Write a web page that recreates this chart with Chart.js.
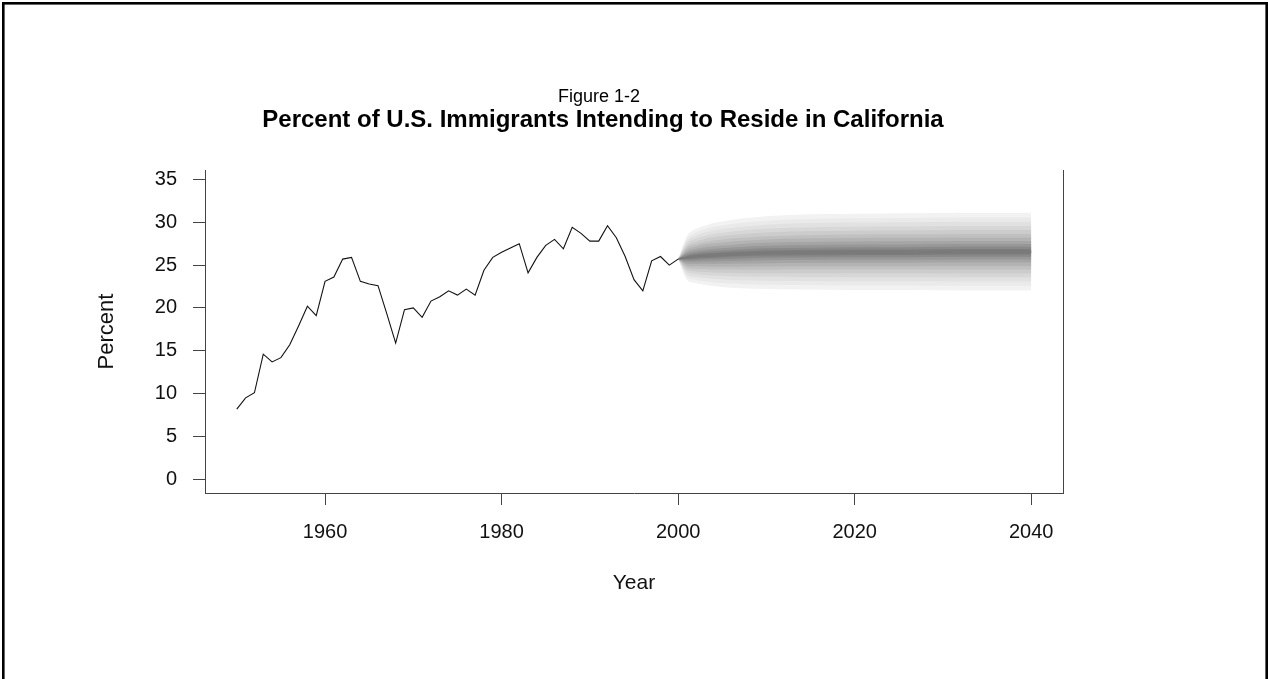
<!DOCTYPE html>
<html>
<head>
<meta charset="utf-8">
<title>Percent of U.S. Immigrants Intending to Reside in California</title>
<script src="https://cdn.jsdelivr.net/npm/chart.js@4.4.0/dist/chart.umd.min.js"></script>
<style>
  html, body { margin: 0; padding: 0; background: #ffffff; }
  #wrap { position: relative; width: 1268px; height: 679px; }
</style>
</head>
<body>
<div id="wrap"><canvas id="chart" width="1268" height="679"></canvas></div>
<script>
// Observed share (%) of U.S. immigrants naming California as intended residence
const years = [1950, 1951, 1952, 1953, 1954, 1955, 1956, 1957, 1958, 1959,
               1960, 1961, 1962, 1963, 1964, 1965, 1966, 1967, 1968, 1969,
               1970, 1971, 1972, 1973, 1974, 1975, 1976, 1977, 1978, 1979,
               1980, 1981, 1982, 1983, 1984, 1985, 1986, 1987, 1988, 1989,
               1990, 1991, 1992, 1993, 1994, 1995, 1996, 1997, 1998, 1999,
               2000];
const pctHistory = [8.2, 9.5, 10.1, 14.6, 13.7, 14.2, 15.7, 17.9, 20.2, 19.1,
                    23.1, 23.6, 25.7, 25.9, 23.1, 22.8, 22.6, 19.3, 15.9, 19.8,
                    20.0, 18.9, 20.8, 21.3, 22.0, 21.5, 22.2, 21.5, 24.4, 25.9,
                    26.5, 27.0, 27.5, 24.1, 25.9, 27.3, 28.0, 26.9, 29.4, 28.7,
                    27.8, 27.8, 29.6, 28.2, 26.0, 23.3, 22.0, 25.5, 26.0, 25.0,
                    25.7];

// Forecast fan: median path and outer probability bounds
const fanYears  = [2000, 2001, 2002, 2003, 2004, 2005, 2007, 2010, 2014, 2020, 2026, 2032, 2040];
const fanMedian = [25.7, 25.9, 26.0, 26.1, 26.15, 26.2, 26.3, 26.4, 26.45, 26.5, 26.5, 26.55, 26.55];
const fanUpper  = [25.7, 28.4, 29.2, 29.6, 29.9, 30.1, 30.4, 30.7, 30.9, 31.0, 31.05, 31.1, 31.1];
const fanLower  = [25.7, 23.3, 22.9, 22.7, 22.55, 22.45, 22.3, 22.2, 22.15, 22.1, 22.1, 22.05, 22.05];

// Nested fan bands: share of the outer half-width, and the grey used for each
const bandShares = [1.0, 0.88, 0.77, 0.66, 0.56, 0.46, 0.37, 0.28, 0.20, 0.13, 0.07];
const bandShades = ['#f2f2f2', '#eaeaea', '#e1e1e1', '#d7d7d7', '#cccccc', '#c0c0c0',
                    '#b3b3b3', '#a5a5a5', '#979797', '#898989', '#7c7c7c'];

// Axis ticks
const xTickYears  = [1960, 1980, 2000, 2020, 2040];
const yTickValues = [0, 5, 10, 15, 20, 25, 30, 35];

const FONT = '"Liberation Sans", Arial, Helvetica, sans-serif';
Chart.defaults.font.family = FONT;

const datasets = [];
bandShares.forEach((share, k) => {
  const upper = fanYears.map((yr, i) => ({ x: yr, y: fanMedian[i] + share * (fanUpper[i] - fanMedian[i]) }));
  const lower = fanYears.map((yr, i) => ({ x: yr, y: fanMedian[i] - share * (fanMedian[i] - fanLower[i]) }));
  const lowerIndex = datasets.length + 1;
  datasets.push({
    data: upper, fill: lowerIndex, backgroundColor: bandShades[k],
    borderWidth: 0, pointRadius: 0, cubicInterpolationMode: 'monotone', order: 100 - k
  });
  datasets.push({
    data: lower, fill: false, borderWidth: 0, pointRadius: 0,
    cubicInterpolationMode: 'monotone', order: 100 - k
  });
});
datasets.push({
  data: fanYears.map((yr, i) => ({ x: yr, y: fanMedian[i] })),
  borderColor: '#7a7a7a', borderWidth: 2, pointRadius: 0, fill: false,
  cubicInterpolationMode: 'monotone', order: 1
});
datasets.push({
  data: years.map((yr, i) => ({ x: yr, y: pctHistory[i] })),
  borderColor: '#111111', borderWidth: 1.1, pointRadius: 0, fill: false,
  tension: 0, order: 0
});

// Page frame and the two-line heading
const headingPlugin = {
  id: 'heading',
  afterDraw(chart) {
    const ctx = chart.ctx;
    ctx.save();
    ctx.strokeStyle = '#000000';
    ctx.lineWidth = 2.6;
    ctx.strokeRect(3.3, 3.3, 1263.4, 720);
    ctx.fillStyle = '#000000';
    ctx.textAlign = 'center';
    ctx.textBaseline = 'middle';
    ctx.font = '18px ' + FONT;
    ctx.fillText('Figure 1-2', 599, 97);
    ctx.font = 'bold 24px ' + FONT;
    ctx.fillText('Percent of U.S. Immigrants Intending to Reside in California', 603, 120);
    ctx.restore();
  }
};

const axisColor = '#444444';

new Chart(document.getElementById('chart'), {
  type: 'line',
  data: { datasets },
  options: {
    responsive: false,
    animation: false,
    layout: { padding: { left: 90, right: 205, top: 170, bottom: 79 } },
    plugins: { legend: { display: false }, tooltip: { enabled: false }, title: { display: false } },
    scales: {
      x: {
        type: 'linear',
        position: 'bottom',
        min: 1946.4,
        max: 2043.6,
        afterBuildTicks: (scale) => { scale.ticks = xTickYears.map(v => ({ value: v })); },
        afterFit: (scale) => { scale.height = 107; },
        grid: { display: true, drawOnChartArea: false, drawTicks: true, tickLength: 12, color: axisColor, lineWidth: 1 },
        border: { display: true, color: axisColor, width: 1 },
        ticks: { color: '#111111', font: { size: 20 }, padding: 15, maxRotation: 0, autoSkip: false,
                 callback: (v) => String(v) },
        title: { display: true, text: 'Year', color: '#111111', font: { size: 21 }, padding: { top: 4, bottom: 4 } }
      },
      y: {
        type: 'linear',
        position: 'left',
        min: -1.6,
        max: 36.1,
        afterBuildTicks: (scale) => { scale.ticks = yTickValues.map(v => ({ value: v })); },
        afterFit: (scale) => { scale.width = 115; },
        grid: { display: true, drawOnChartArea: false, drawTicks: true, tickLength: 12, color: axisColor, lineWidth: 1 },
        border: { display: true, color: axisColor, width: 1 },
        ticks: { color: '#111111', font: { size: 20 }, padding: 16, autoSkip: false, callback: (v) => String(v) },
        title: { display: true, text: 'Percent', color: '#111111', font: { size: 22 }, padding: { top: 4, bottom: 4 } }
      },
      yRight: {
        type: 'linear',
        position: 'right',
        display: true,
        afterFit: (scale) => { scale.width = 0; },
        grid: { display: false, drawTicks: false },
        border: { display: true, color: axisColor, width: 1 },
        ticks: { display: false }
      }
    }
  },
  plugins: [headingPlugin]
});
</script>
</body>
</html>
